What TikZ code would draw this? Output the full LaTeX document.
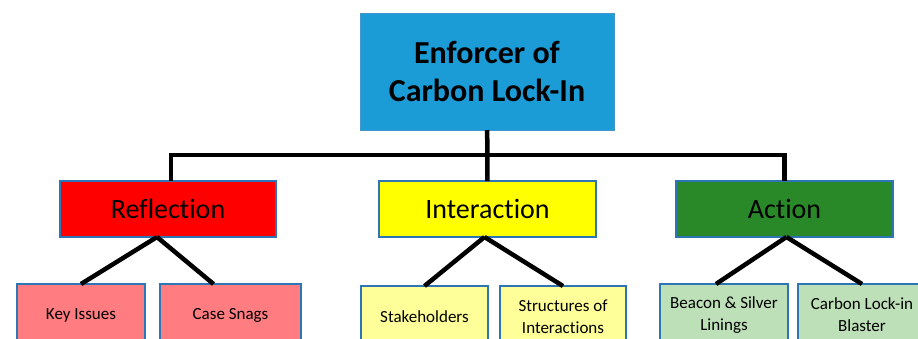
\documentclass[tikz,border=0pt]{standalone}
\usepackage{fontspec}
\setmainfont{Carlito}[Ligatures={NoCommon}]
\usepackage{xcolor}
\usepackage{tikz}
\usetikzlibrary{positioning}
\definecolor{topblue}{RGB}{27,156,215}
\definecolor{topedge}{RGB}{70,150,205}
\definecolor{edge}{RGB}{46,117,182}
\definecolor{redfill}{RGB}{255,0,0}
\definecolor{yellowfill}{RGB}{255,255,0}
\definecolor{greenfill}{RGB}{41,137,41}
\definecolor{pinkfill}{RGB}{255,124,128}
\definecolor{paleyellow}{RGB}{255,255,153}
\definecolor{palegreen}{RGB}{190,224,184}
\tikzstyle{topbox} = [rectangle, draw=topedge, line width=1pt, fill=topblue, align=center, inner sep=0pt, outer sep=0pt, minimum width=254pt, minimum height=117pt, font=\fontsize{32}{38}\selectfont\bfseries]
\tikzstyle{branch} = [rectangle, draw=edge, line width=1.6pt, align=center, inner sep=0pt, outer sep=0pt, minimum width=217pt, minimum height=56pt, font=\fontsize{28}{32}\selectfont]
\tikzstyle{leaf} = [rectangle, draw=edge, line width=1.6pt, align=center, inner sep=0pt, outer sep=0pt, minimum width=128pt, minimum height=62pt, font=\fontsize{17}{22}\selectfont]
\tikzstyle{line} = [draw, line width=4.5pt]

\begin{document}
\begin{tikzpicture}[x=1pt, y=1pt]
    \useasboundingbox (0,0) rectangle (918,-338);
    \node [topbox] (enforcer) at (487,-71.5) {Enforcer of\\Carbon Lock-In};
    \node [branch, fill=yellowfill, below=51pt of enforcer, xshift=0.5pt] (interaction) {Interaction};
    \node [branch, fill=redfill, left=103pt of interaction, minimum width=216pt] (reflection) {Reflection};
    \node [branch, fill=greenfill, right=80pt of interaction] (action) {Action};
    \coordinate [below=25pt of enforcer.south] (bar);

    \node [leaf, fill=pinkfill, below=47pt of reflection, xshift=-87pt] (keyissues) {Key Issues};
    \node [leaf, fill=pinkfill, below=47pt of reflection, xshift=62.5pt, minimum width=141pt] (casesnags) {Case Snags};
    \node [leaf, fill=paleyellow, below=49pt of interaction, xshift=-63pt, minimum width=127pt] (stakeholders) {Stakeholders};
    \node [leaf, fill=paleyellow, below=49pt of interaction, xshift=75.5pt, minimum width=126pt] (structures) {Structures of\\Interactions};
    \node [leaf, fill=palegreen, below=47pt of action, xshift=-60.5pt] (beacon) {Beacon \& Silver\\Linings};
    \node [leaf, fill=palegreen, below=47pt of action, xshift=77.5pt] (blaster) {Carbon Lock-in\\Blaster};

    \path [line] (enforcer) -- (interaction);
    \path [line] ([xshift=3pt]reflection.north) |- (bar) -| (action.north);
    \path [line] ([xshift=-11pt]reflection.south) -- (keyissues.north);
    \path [line] ([xshift=-11pt]reflection.south) -- ([xshift=-17pt]casesnags.north);
    \path [line] ([xshift=-3pt]interaction.south) -- (stakeholders.north);
    \path [line] ([xshift=-3pt]interaction.south) -- (structures.north);
    \path [line] ([xshift=2pt]action.south) -- ([xshift=-8pt]beacon.north);
    \path [line] ([xshift=2pt]action.south) -- (blaster.north);
\end{tikzpicture}
\end{document}
